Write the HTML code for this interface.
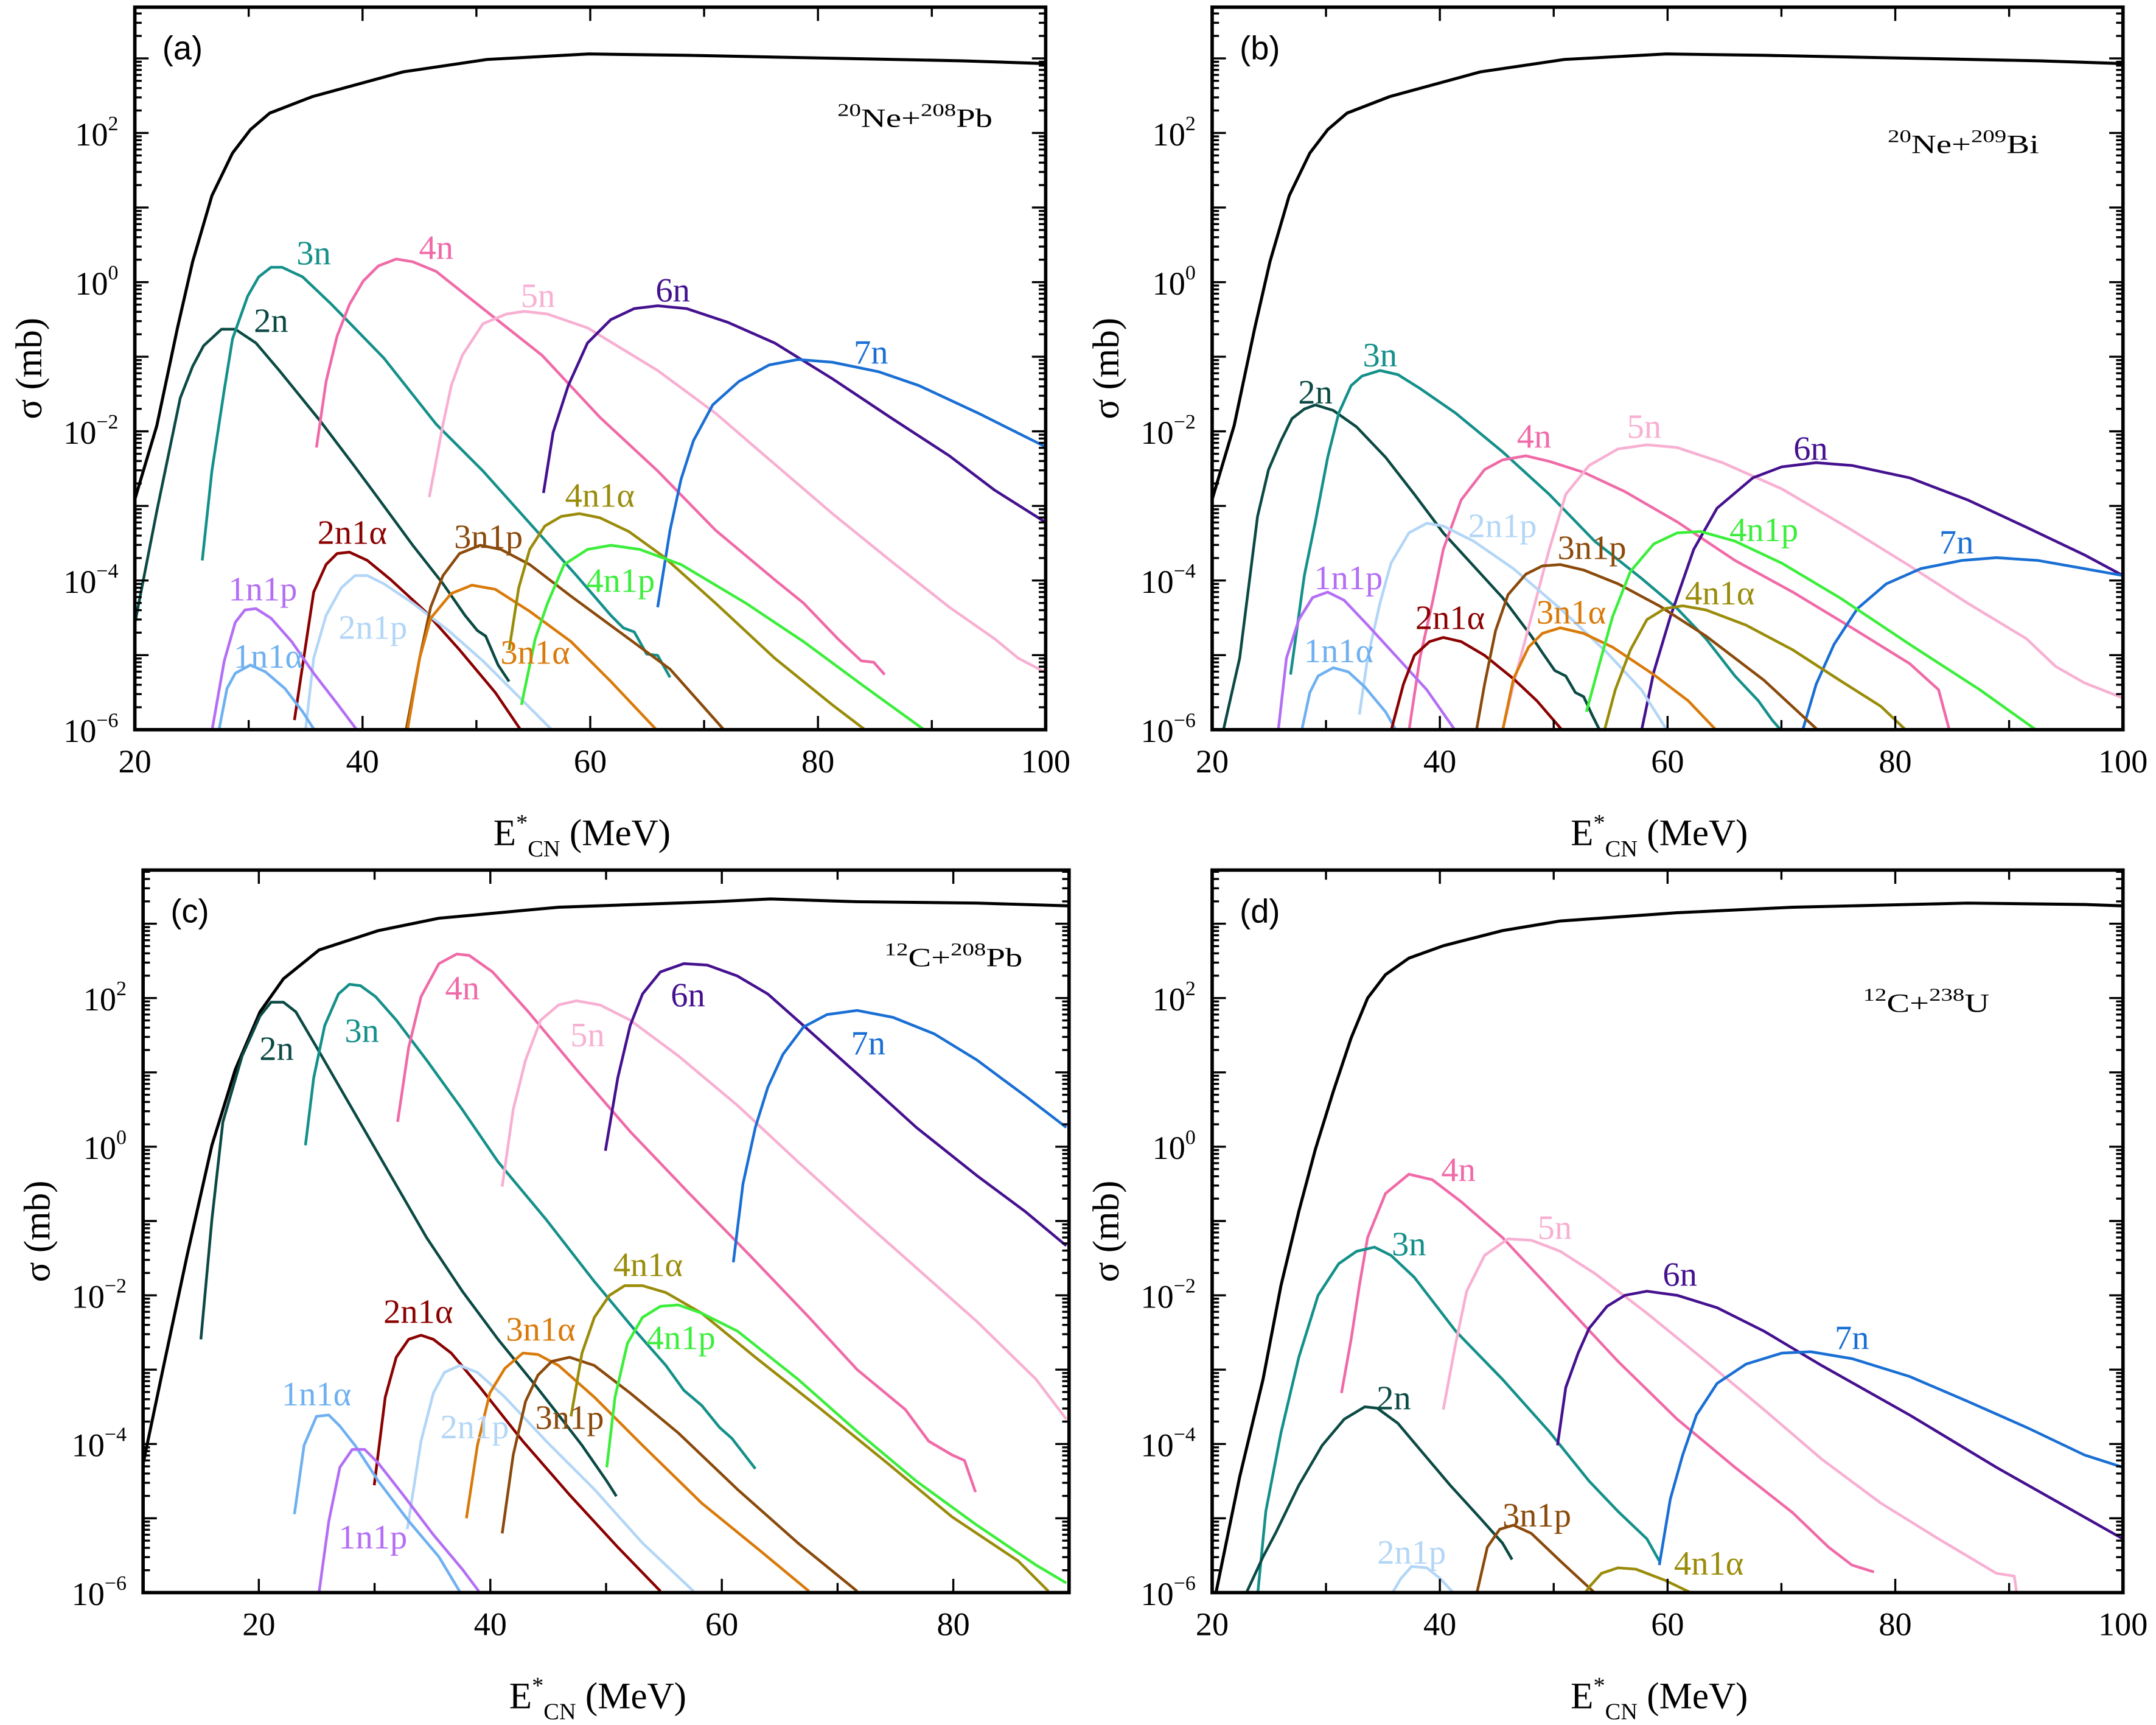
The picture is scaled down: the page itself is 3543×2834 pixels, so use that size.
<!DOCTYPE html>
<html><head><meta charset="utf-8">
<style>html,body{margin:0;padding:0;background:#fff}svg{display:block}svg text{font-family:"Liberation Serif",serif}</style>
</head><body>
<svg id="s" xmlns="http://www.w3.org/2000/svg" width="3543" height="2834" viewBox="0 0 1567 1253">
<rect width="1567" height="1253" fill="#fff"/>
<g id="g"></g>
</svg>
<script>
const NS="http://www.w3.org/2000/svg",G=document.getElementById('g');
const SERIF="font-family:'Liberation Serif',serif",SANS="font-family:'Liberation Sans',sans-serif";
function el(t,a,txt,par){const e=document.createElementNS(NS,t);for(const k in a)e.setAttribute(k,a[k]);if(t=='text'&&!a.style)e.setAttribute('style',SERIF);if(txt!==undefined)e.textContent=txt;(par||G).appendChild(e);return e;}
function line(x1,y1,x2,y2,w){el('line',{x1,y1,x2,y2,stroke:'#000','stroke-width':w||1.5});}
const C={blk:'#000',n2:'#0b4a44',n3:'#14908a',n4:'#f06aa8',n5:'#f8b0d2',n6:'#45118f',n7:'#1a6fd4',a2:'#8b0000',p2:'#b3d6f7',p1:'#b46ef5',a1:'#6fb0f0',p3:'#8b4a0b',a3:'#d97a0a',a4:'#9a8c0a',p4:'#3cee3c'};
function panel(P){
  const {x0,x1,yb,yt,e0,e1,ydec}=P;
  const id='c'+x0+yb;
  const cp=document.createElementNS(NS,'clipPath');cp.setAttribute('id',id);
  const r=document.createElementNS(NS,'rect');r.setAttribute('x',x0);r.setAttribute('y',yt);r.setAttribute('width',x1-x0);r.setAttribute('height',yb-yt);
  cp.appendChild(r);G.appendChild(cp);
  const gg=el('g',{'clip-path':'url(#'+id+')'});
  for(const s of P.curves){
    el('polyline',{points:s[1].map(q=>q.join(',')).join(' '),fill:'none',stroke:C[s[0]],'stroke-width':s[0]=='blk'?2.2:2,'stroke-linejoin':'round'},undefined,gg);
  }
  el('rect',{x:x0,y:yt,width:x1-x0,height:yb-yt,fill:'none',stroke:'#000','stroke-width':2.5});
  const px=(x1-x0)/(e1-e0);
  for(let e=e0;e<=e1;e+=10){
    const x=x0+(e-e0)*px, L=(e%20==0)?10:7;
    line(x,yb,x,yb-L);line(x,yt,x,yt+L);
    if(e%20==0) el('text',{x:x,y:yb+31,'font-size':24,'text-anchor':'middle'},String(e));
  }
  for(let d=-6;d<=3;d++){
    for(let m=1;m<10;m++){
      const y=yb-(d+6+Math.log10(m))*ydec;
      if(y<yt-0.5)continue;
      const L=m==1?10:5;
      line(x0,y,x0+L,y);line(x1,y,x1-L,y);
    }
    if(d%2==0&&d<=2){
      const y=yb-(d+6)*ydec;
      const t=el('text',{x:x0-12,y:y+9,'font-size':24,'text-anchor':'end'});
      t.innerHTML='10<tspan font-size="15" dy="-11">'+(d<0?'\u2212'+(-d):d)+'</tspan>';
    }
  }
  const cy=(yb+yt)/2;
  el('text',{x:0,y:0,'font-size':27,'text-anchor':'middle',transform:'translate('+(x0-68)+','+cy+') rotate(-90)'},'\u03c3 (mb)');
  const t=el('text',{x:(x0+x1)/2-6,y:yb+84,'font-size':27,'text-anchor':'middle'});
  t.innerHTML='E<tspan font-size="17" dy="-11">*</tspan><tspan font-size="17" dy="19">CN</tspan><tspan dy="-8"> (MeV)</tspan>';
  el('text',{x:x0+20,y:yt+38,'font-size':24,style:SANS},P.tag);
  const a=el('text',{x:0,y:0,'font-size':19,'text-anchor':'middle',transform:'translate('+P.ax+','+P.ay+') scale(1.32,1)'});a.innerHTML=P.ann;
  for(const l of P.labels){el('text',{x:l[2],y:l[3]+9,'font-size':25,'text-anchor':'middle',fill:C[l[0]]},l[1]);}
}
function sh(arr,dx){return arr.map(p=>[p[0]+dx,p[1]]);}
function ann(a,b,c,d){return '<tspan font-size="13" dy="-8">'+a+'</tspan><tspan dy="8">'+b+'</tspan><tspan font-size="13" dy="-8">'+c+'</tspan><tspan dy="8">'+d+'</tspan>';}
const blkA=[[97,366],[114,309],[129,238],[140,190],[154,142],[169,111],[182,94],[196,82],[227,70],[293,52],[354,43],[428,39],[500,40],[600,42],[700,44],[760,46]];
panel({x0:98,x1:760,yb:530,yt:5,e0:20,e1:100,ydec:54.2,tag:'(a)',ax:665,ay:92,ann:ann('20','Ne+','208','Pb'),
curves:[['blk',blkA],
['n2',[[97,458],[114,371],[131,289],[140,266],[148,251],[161,239],[171,239],[186,249],[203,269],[233,306],[258,339],[275,362],[300,396],[322,424],[338,447],[347,458],[353,462],[362,483],[370,495]]],
['n3',[[147,407],[154,342],[163,283],[169,246],[180,215],[188,201],[197,194],[205,194],[220,201],[241,221],[279,260],[317,308],[351,342],[394,390],[419,418],[444,447],[453,456],[461,459],[470,475],[478,476],[487,492]]],
['n4',[[230,325],[237,277],[245,244],[254,221],[264,204],[275,193],[288,188],[300,190],[317,197],[351,224],[394,258],[436,303],[478,342],[520,385],[563,421],[584,438],[609,464],[626,480],[635,481],[643,490]]],
['n5',[[312,361],[322,308],[328,280],[336,258],[351,235],[368,228],[381,226],[398,228],[427,238],[478,269],[520,300],[563,337],[605,373],[647,407],[690,441],[723,464],[740,478],[761,489]]],
['n6',[[395,358],[402,314],[413,280],[427,249],[444,232],[461,224],[478,222],[499,224],[529,234],[563,249],[605,275],[647,303],[690,331],[723,356],[761,380]]],
['n7',[[478,441],[487,385],[495,348],[504,320],[518,294],[537,277],[559,265],[580,261],[605,263],[639,270],[668,280],[711,300],[761,325]]],
['a2',[[214,523],[220,483],[228,430],[237,410],[245,402],[254,401],[267,407],[284,421],[309,444],[334,472],[360,503],[379,531]]],
['p2',[[222,531],[228,478],[237,447],[248,427],[258,418],[267,418],[279,424],[300,438],[326,458],[351,480],[377,506],[402,531]]],
['p1',[[154,531],[163,480],[171,452],[178,443],[186,442],[197,449],[212,466],[228,489],[245,511],[260,531]]],
['a1',[[159,531],[165,500],[171,489],[182,483],[193,488],[207,500],[220,517],[229,531]]],
['p3',[[295,531],[305,478],[313,441],[322,418],[334,402],[349,396],[364,399],[385,410],[415,433],[449,458],[487,486],[527,531]]],
['a3',[[296,531],[305,478],[313,449],[328,431],[343,425],[360,428],[385,444],[415,466],[444,495],[478,531]]],
['a4',[[370,472],[377,427],[385,399],[396,382],[408,375],[421,373],[436,376],[457,386],[482,404],[520,438],[563,478],[605,512],[630,531]]],
['p4',[[379,512],[389,464],[398,438],[410,410],[427,399],[444,396],[465,399],[495,410],[542,438],[584,466],[626,497],[673,531]]]],
labels:[['n3','3n',228,183],['n4','4n',317,179],['n5','5n',391,214],['n6','6n',489,210],['n7','7n',633,255],['n2','2n',197,232],['a2','2n1\u03b1',256,386],['p3','3n1p',355,389],['a4','4n1\u03b1',436,359],['p4','4n1p',451,421],['a3','3n1\u03b1',389,473],['p1','1n1p',191,427],['p2','2n1p',271,455],['a1','1n1\u03b1',195,476]]});

panel({x0:881,x1:1543,yb:530,yt:5,e0:20,e1:100,ydec:54.2,tag:'(b)',ax:1427,ay:111,ann:ann('20','Ne+','209','Bi'),
curves:[['blk',sh(blkA,783)],
['n2',[[889,531],[901,478],[914,375],[922,341],[931,320],[939,304],[948,297],[956,294],[969,298],[986,310],[1007,332],[1028,359],[1049,387],[1071,411],[1092,434],[1113,462],[1121,474],[1130,487],[1138,491],[1145,503],[1151,506],[1157,519],[1163,531]]],
['n3',[[938,490],[948,418],[956,379],[965,332],[973,300],[982,280],[990,273],[1003,269],[1016,272],[1032,282],[1058,300],[1092,328],[1126,359],[1159,393],[1193,420],[1219,442],[1240,464],[1261,491],[1278,509],[1288,523],[1295,531]]],
['n4',[[1024,531],[1032,478],[1041,438],[1049,399],[1062,363],[1079,341],[1092,334],[1109,331],[1126,335],[1151,343],[1181,357],[1219,379],[1261,407],[1303,430],[1346,456],[1388,482],[1409,501],[1417,531]]],
['n5',[[1092,531],[1100,497],[1113,448],[1126,399],[1138,359],[1155,338],[1176,326],[1197,323],[1219,325],[1252,336],[1295,355],[1346,385],[1388,411],[1430,438],[1473,464],[1494,484],[1515,496],[1543,507]]],
['n6',[[1193,531],[1202,488],[1214,448],[1231,399],[1248,369],[1274,347],[1295,339],[1320,336],[1346,338],[1388,347],[1430,363],[1473,383],[1515,403],[1543,418]]],
['n7',[[1310,531],[1320,497],[1333,468],[1350,442],[1371,424],[1396,413],[1426,407],[1451,405],[1481,407],[1515,413],[1543,418]]],
['p2',[[988,519],[994,478],[1003,438],[1011,409],[1024,387],[1037,380],[1049,382],[1071,393],[1100,413],[1134,442],[1168,474],[1193,501],[1212,531]]],
['p1',[[929,531],[935,478],[944,450],[954,434],[965,430],[977,436],[994,454],[1016,478],[1037,501],[1058,531]]],
['a1',[[946,531],[952,503],[958,491],[969,485],[980,488],[992,499],[1007,517],[1015,531]]],
['a2',[[1011,531],[1020,497],[1028,476],[1039,466],[1049,463],[1062,466],[1079,476],[1100,493],[1117,509],[1136,531]]],
['p3',[[1073,531],[1079,497],[1087,458],[1096,432],[1109,417],[1121,411],[1134,410],[1151,414],[1176,424],[1206,440],[1240,462],[1282,494],[1322,531]]],
['a3',[[1092,531],[1100,493],[1111,470],[1121,460],[1134,456],[1151,460],[1172,470],[1202,490],[1227,509],[1248,531]]],
['p4',[[1153,517],[1162,484],[1172,448],[1185,415],[1202,395],[1219,387],[1236,386],[1261,393],[1295,409],[1337,434],[1388,468],[1439,501],[1481,531]]],
['a4',[[1166,531],[1174,501],[1185,472],[1197,450],[1210,442],[1223,440],[1240,443],[1269,454],[1303,472],[1337,494],[1367,513],[1386,531]]]],
labels:[['n3','3n',1003,257],['n2','2n',956,284],['n4','4n',1115,316],['n5','5n',1195,309],['n6','6n',1316,325],['n7','7n',1422,393],['p2','2n1p',1092,381],['p3','3n1p',1157,397],['p4','4n1p',1282,384],['p1','1n1p',980,419],['a4','4n1\u03b1',1250,430],['a2','2n1\u03b1',1054,448],['a3','3n1\u03b1',1142,444],['a1','1n1\u03b1',973,472]]});

panel({x0:104,x1:777,yb:1157,yt:632,e0:10,e1:90,ydec:54,tag:'(c)',ax:693,ay:702,ann:ann('12','C+','208','Pb'),
curves:[['blk',[[102,1073],[119,992],[136,912],[154,832],[171,777],[189,735],[206,711],[232,690],[275,676],[319,667],[406,659],[519,655],[560,653],[623,655],[710,656],[777,658]]],
['n2',[[146,973],[154,886],[162,815],[176,767],[189,738],[197,728],[206,728],[215,735],[232,764],[258,809],[284,854],[310,899],[336,938],[362,973],[388,1005],[406,1028],[423,1050],[432,1063],[441,1076],[448,1087]]],
['n3',[[222,832],[228,783],[236,745],[246,722],[254,715],[262,716],[273,724],[288,741],[310,770],[336,806],[362,844],[397,886],[432,931],[462,967],[484,992],[497,1010],[510,1021],[523,1037],[532,1045],[549,1067]]],
['n4',[[289,815],[297,761],[306,724],[319,700],[332,693],[341,694],[358,706],[384,735],[419,777],[458,822],[501,867],[545,912],[588,957],[623,995],[658,1024],[675,1047],[692,1057],[701,1061],[709,1084]]],
['n5',[[365,862],[373,806],[382,770],[393,741],[406,730],[419,727],[436,730],[458,741],[493,767],[536,803],[580,844],[623,883],[666,921],[710,960],[753,1002],[775,1031]]],
['n6',[[440,836],[449,783],[458,745],[467,722],[480,706],[497,700],[514,701],[536,709],[558,722],[584,745],[623,780],[666,819],[710,854],[745,880],[775,905]]],
['n7',[[533,917],[540,860],[549,819],[558,790],[569,766],[584,746],[601,737],[623,734],[649,739],[679,751],[710,770],[745,796],[775,819]]],
['a2',[[272,1079],[280,1015],[288,986],[297,973],[306,970],[315,973],[328,983],[349,1008],[380,1047],[414,1086],[449,1124],[480,1156]]],
['p2',[[296,1111],[306,1047],[315,1012],[323,997],[334,992],[347,997],[367,1015],[397,1047],[432,1082],[467,1121],[504,1156]]],
['a1',[[214,1100],[221,1050],[230,1029],[239,1028],[247,1036],[258,1050],[275,1076],[297,1105],[319,1131],[334,1156]]],
['p1',[[232,1156],[239,1105],[247,1066],[256,1053],[265,1053],[275,1063],[293,1086],[315,1115],[336,1140],[348,1156]]],
['a3',[[339,1103],[347,1050],[356,1012],[367,994],[380,983],[391,984],[406,992],[432,1015],[467,1050],[510,1092],[553,1127],[588,1156]]],
['p3',[[365,1114],[373,1057],[382,1018],[391,999],[401,989],[414,986],[432,992],[458,1012],[493,1041],[536,1082],[580,1121],[623,1156]]],
['a4',[[415,1029],[423,983],[432,957],[443,941],[454,934],[467,934],[484,939],[510,954],[549,986],[597,1024],[645,1063],[692,1102],[740,1134],[762,1156]]],
['p4',[[441,1066],[447,1015],[456,976],[467,957],[480,949],[493,948],[510,954],[536,967],[580,1002],[623,1040],[666,1076],[710,1108],[753,1137],[775,1150]]]],
labels:[['n2','2n',201,761],['n3','3n',263,748],['n4','4n',336,717],['n5','5n',427,751],['n6','6n',500,722],['n7','7n',631,757],['a4','4n1\u03b1',471,918],['p4','4n1p',495,971],['a2','2n1\u03b1',304,952],['a3','3n1\u03b1',393,965],['a1','1n1\u03b1',230,1012],['p2','2n1p',345,1036],['p3','3n1p',414,1029],['p1','1n1p',271,1116]]});

panel({x0:881,x1:1543,yb:1157,yt:632,e0:20,e1:100,ydec:54,tag:'(d)',ax:1400,ay:735,ann:ann('12','C+','238','U'),
curves:[['blk',[[884,1156],[901,1073],[918,1002],[931,934],[944,880],[956,835],[969,793],[982,754],[994,725],[1007,708],[1024,696],[1049,687],[1092,676],[1134,669],[1219,663],[1303,659],[1430,656],[1515,657],[1543,658]]],
['n4',[[975,1012],[982,973],[988,934],[994,899],[1007,867],[1024,853],[1041,857],[1062,873],[1092,899],[1134,944],[1176,989],[1219,1031],[1261,1066],[1303,1099],[1329,1124],[1346,1137],[1362,1142]]],
['n3',[[914,1159],[920,1098],[931,1041],[944,986],[958,941],[973,918],[986,909],[999,906],[1011,912],[1028,928],[1058,967],[1092,1002],[1126,1040],[1155,1076],[1176,1098],[1197,1118],[1206,1134]]],
['n5',[[1049,1024],[1058,976],[1066,938],[1079,912],[1096,900],[1113,901],[1134,909],[1159,925],[1197,954],[1240,989],[1282,1024],[1324,1060],[1367,1092],[1409,1118],[1451,1143],[1464,1145],[1466,1159]]],
['n6',[[1132,1050],[1138,1008],[1147,983],[1155,965],[1168,949],[1181,941],[1197,938],[1219,941],[1248,950],[1282,967],[1324,992],[1388,1028],[1451,1066],[1543,1118]]],
['n7',[[1206,1137],[1214,1089],[1223,1057],[1233,1028],[1248,1005],[1269,991],[1295,983],[1316,982],[1346,987],[1388,1000],[1430,1018],[1473,1037],[1515,1057],[1543,1066]]],
['n2',[[905,1159],[918,1131],[927,1114],[944,1079],[961,1050],[977,1031],[992,1022],[1001,1023],[1016,1034],[1032,1053],[1054,1079],[1075,1102],[1092,1121],[1099,1133]]],
['p2',[[1011,1159],[1018,1147],[1026,1138],[1037,1139],[1047,1147],[1058,1159]]],
['p3',[[1073,1159],[1081,1124],[1090,1111],[1100,1108],[1113,1114],[1134,1134],[1161,1159]]],
['a4',[[1151,1159],[1155,1153],[1164,1143],[1176,1139],[1189,1140],[1210,1148],[1233,1159]]]],
labels:[['n4','4n',1060,849],['n3','3n',1024,903],['n5','5n',1130,891],['n6','6n',1221,925],['n7','7n',1346,971],['n2','2n',1013,1015],['p3','3n1p',1117,1100],['p2','2n1p',1026,1127],['a4','4n1\u03b1',1242,1135]]});
</script>
</body></html>
